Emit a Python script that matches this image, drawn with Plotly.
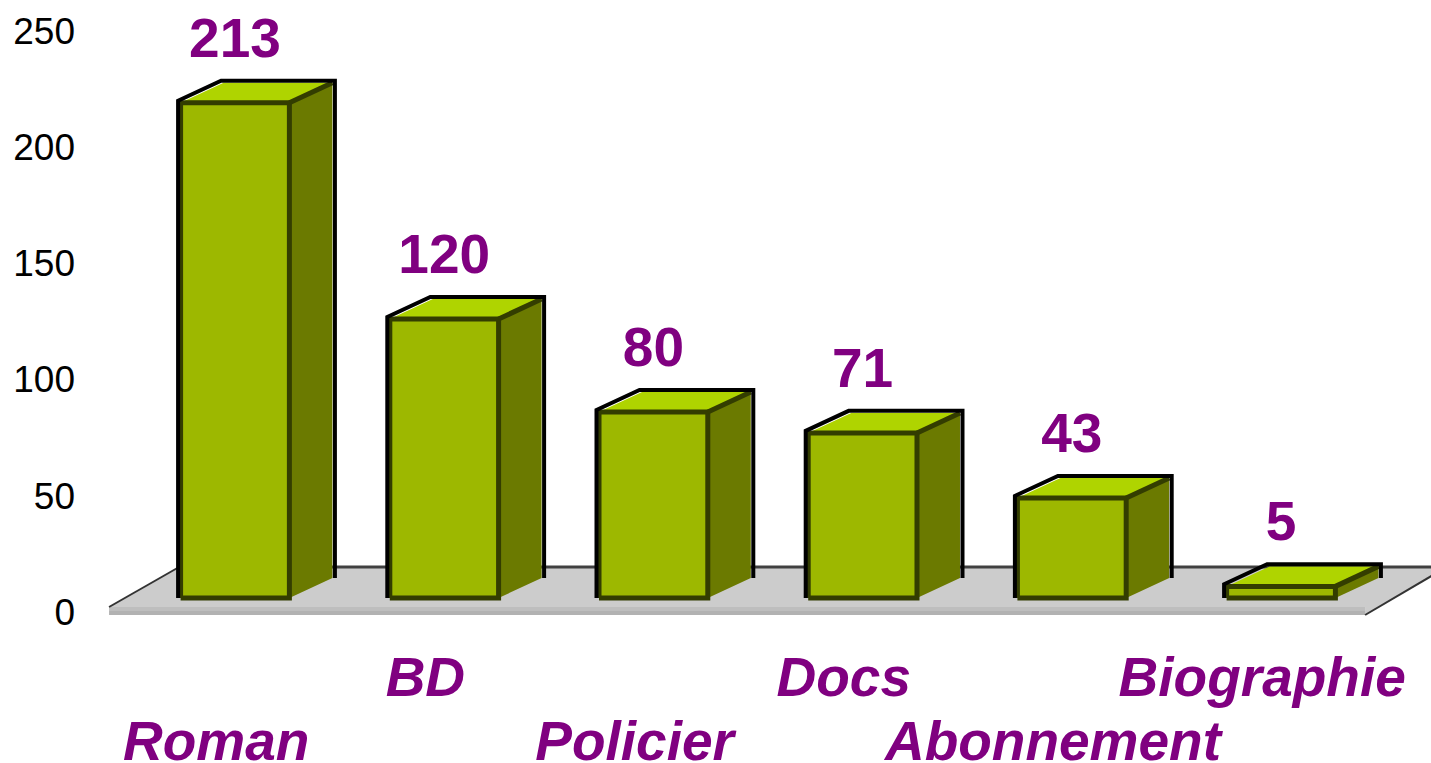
import plotly.graph_objects as go

categories = ["Roman", "BD", "Policier", "Docs", "Abonnement", "Biographie"]
values = [213, 120, 80, 71, 43, 5]
label_row = [1, 0, 1, 0, 1, 0]
y_ticks = [0, 50, 100, 150, 200, 250]

PX_X = 209.2
PX_Y = 2.325
half_w = 0.26
dx = 43 / PX_X
dy = 20 / PX_Y
lift = 60 / PX_Y
PURPLE = "#800080"
FONT = "Liberation Sans, Arial, sans-serif"

xs = list(range(len(categories)))
front, top, side, dark, black = ([], []), ([], []), ([], []), ([], []), ([], [])


def add(store, pts):
    for a, b in pts:
        store[0].append(a)
        store[1].append(b)
    store[0].append(None)
    store[1].append(None)


for i, v in zip(xs, values):
    l, r = i - half_w, i + half_w
    add(side, [(r, 0), (r + dx, dy), (r + dx, v + dy), (r, v)])
    add(top, [(l, v), (l + dx, v + dy), (r + dx, v + dy), (r, v)])
    add(front, [(l, 0), (l, v), (r, v), (r, 0)])
    add(dark, [(l, 0), (l, v), (r, v), (r, 0), (l, 0)])
    add(dark, [(r, v), (r + dx, v + dy)])
    add(black, [(l - 0.012, 0), (l - 0.012, v + 0.9), (l + dx - 0.012, v + dy + 0.9),
                (r + dx + 0.012, v + dy + 0.9), (r + dx + 0.012, dy)])

# floor
f_l = xs[0] - 0.602
f_r = xs[-1] + 0.402
f_dx = 0.335
f_rdx = 0.39
f_back = 31 / PX_Y
f_front = -9 / PX_Y
f_mid = -13 / PX_Y
f_low = -17 / PX_Y

fig = go.Figure()


def poly(store, fill, name):
    fig.add_trace(go.Scatter(x=store[0], y=store[1], mode="lines", fill="toself", fillcolor=fill,
                             line=dict(width=0, color=fill), hoverinfo="skip", showlegend=False, name=name))


def lines(store, color, width, name):
    fig.add_trace(go.Scatter(x=store[0], y=store[1], mode="lines", line=dict(color=color, width=width),
                             hoverinfo="skip", showlegend=False, name=name))


poly(([f_l, f_l + f_dx, f_r + f_rdx, f_r, f_r, f_l], [f_front, f_back, f_back, f_low, f_front, f_front]), "#CCCCCC", "floor")
poly(([f_l, f_r, f_r, f_l], [f_front, f_front, f_mid, f_mid]), "#BEBEBE", "lip1")
poly(([f_l, f_r, f_r, f_l], [f_mid, f_mid, f_low, f_low]), "#B2B2B2", "lip2")
lines(([f_l + f_dx, f_r + f_rdx], [f_back, f_back]), "#404040", 3, "back")
lines(([f_l, f_l + f_dx, None, f_r, f_r + f_rdx], [f_front, f_back, None, f_low, f_back]), "#333333", 2, "edges")
poly(side, "#6B7A00", "side")
poly(top, "#AFD400", "top")
poly(front, "#9DB800", "front")
lines(dark, "#333D00", 5, "dark")
lines(black, "#000000", 4, "black")

fig.add_trace(go.Scatter(x=xs, y=[v + lift for v in values], mode="text", text=[str(v) for v in values],
                         textposition="middle center", textfont=dict(family=FONT, size=55, color=PURPLE, weight="bold"),
                         hoverinfo="skip", showlegend=False, name="values"))
row_y = {0: -84 / PX_Y, 1: -148 / PX_Y}
fig.add_trace(go.Scatter(x=[i - 0.09 for i in xs], y=[row_y[r] for r in label_row], mode="text", text=categories,
                         textposition="middle center",
                         textfont=dict(family=FONT, size=55, color=PURPLE, weight="bold", style="italic"),
                         hoverinfo="skip", showlegend=False, name="categories", cliponaxis=False))

fig.update_layout(
    width=1431, height=763, margin=dict(l=85, r=0, t=0, b=0),
    paper_bgcolor="white", plot_bgcolor="white", showlegend=False,
    xaxis=dict(range=[-0.717, 5.717], showgrid=False, zeroline=False, showline=False, showticklabels=False, ticks=""),
    yaxis=dict(range=[-165 / PX_Y, 598 / PX_Y], showgrid=False, zeroline=False, showline=False, ticks="",
               tickmode="array", tickvals=y_ticks, ticktext=[str(t) for t in y_ticks], ticklabelshift=14,
               ticklabelstandoff=9, tickfont=dict(family=FONT, size=37, color="#000000")),
)
fig.write_html("out.html", config={"displayModeBar": False},
               post_script="document.body.style.margin='0';")
